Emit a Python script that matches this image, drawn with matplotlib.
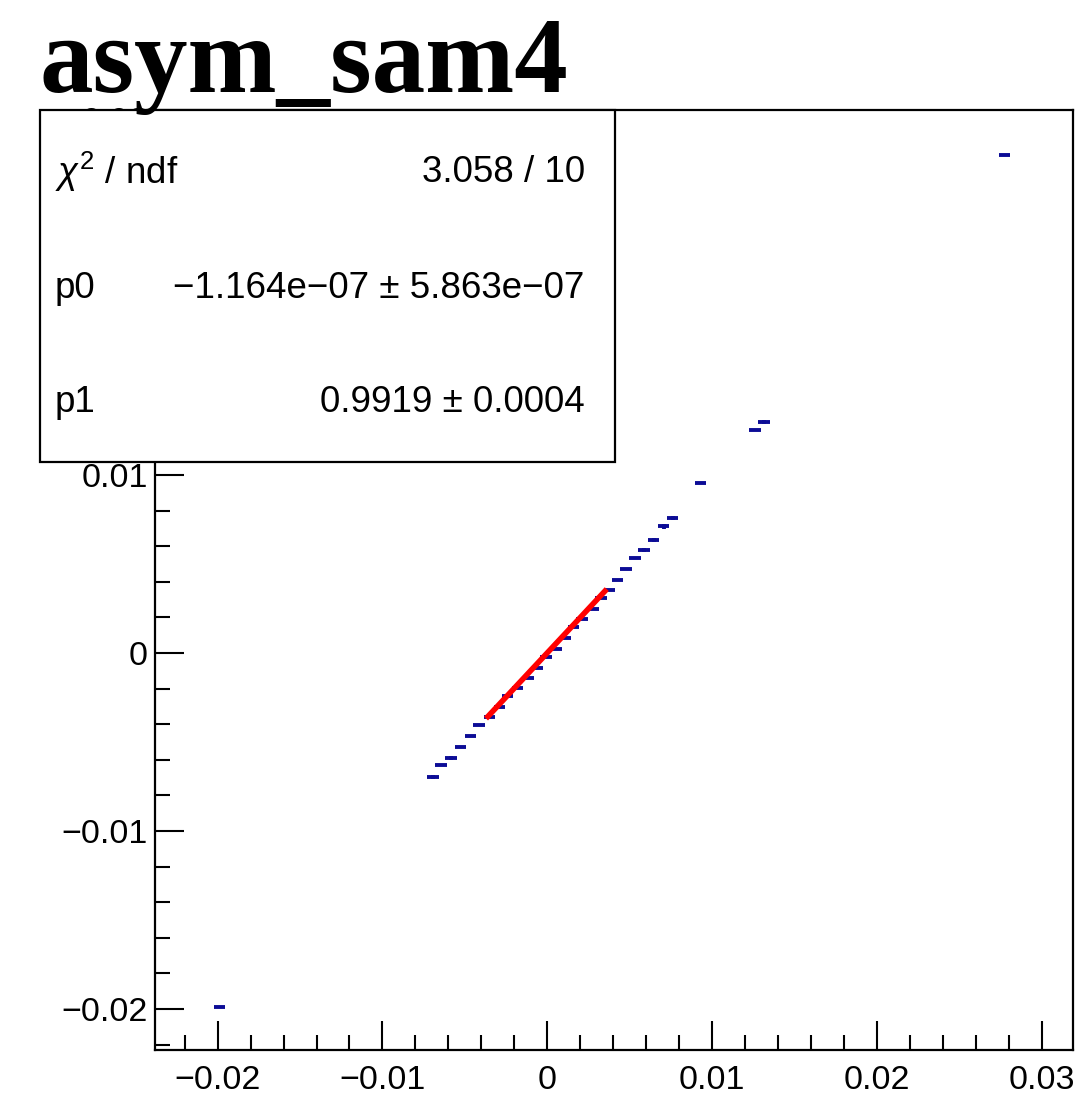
import numpy as np
import matplotlib.pyplot as plt
from matplotlib.ticker import MultipleLocator
from matplotlib.patches import Rectangle

# graph points
x_vals = [-0.0199, -0.00694, -0.00644, -0.00583, -0.00526, -0.00466, -0.00415,
          -0.0035, -0.0029, -0.0024, -0.00179, -0.00118, -0.00058, -0.00007,
          0.00053, 0.00112, 0.00161, 0.00211, 0.0028, 0.00326, 0.00377,
          0.00428, 0.00478, 0.00532, 0.00589, 0.00646, 0.00707, 0.00761,
          0.00929, 0.0126, 0.01317, 0.02774]
y_vals = [-0.0199, -0.00695, -0.00632, -0.00589, -0.00527, -0.00467, -0.00407,
          -0.00361, -0.00302, -0.00243, -0.00196, -0.0014, -0.00084, -0.00022,
          0.00025, 0.00085, 0.00144, 0.00191, 0.00249, 0.00309, 0.00356,
          0.00412, 0.00474, 0.00534, 0.0058, 0.00636, 0.00711, 0.00758,
          0.00955, 0.01254, 0.01299, 0.02797]
x_err = [0.00035, 0.00035, 0.00035, 0.00035, 0.00035, 0.00035, 0.00035,
         0.00035, 0.00035, 0.00035, 0.00035, 0.00035, 0.00035, 0.00035,
         0.00035, 0.00035, 0.00035, 0.00035, 0.00035, 0.00035, 0.00035,
         0.00035, 0.00035, 0.00035, 0.00035, 0.00035, 0.00035, 0.00035,
         0.00035, 0.00035, 0.00035, 0.00035]
y_err = [0.0, 0.00012, 0.0, 0.00012, 0.0, 0.0, 0.0,
         0.0, 0.0, 0.0, 0.0, 0.0, 0.0, 0.0,
         0.0, 0.0, 0.0, 0.0, 0.0, 0.0, 0.0,
         0.0, 0.0, 0.0, 0.00012, 0.00012, 0.00012, 0.00012,
         0.0, 0.0, 0.00012, 0.0]

# fit result
p0 = -1.164e-07
p1 = 0.9919
fit_range = [-0.0036, 0.0035]

stat_labels = ['$\\chi^{2}$ / ndf', 'p0', 'p1']
stat_values = ['3.058 / 10', '\u22121.164e\u221207 \u00b1 5.863e\u221207', '0.9919 \u00b1 0.0004']

plt.rcParams['font.family'] = ['Liberation Sans', 'DejaVu Sans']
plt.rcParams['mathtext.fontset'] = 'custom'
plt.rcParams['mathtext.rm'] = 'Liberation Sans'
plt.rcParams['mathtext.it'] = 'Liberation Sans:italic'

fig = plt.figure(figsize=(10.75, 11.12), dpi=100)
ax = fig.add_axes([0.1442, 0.0558, 0.8538, 0.8453])

ax.errorbar(x_vals, y_vals, xerr=x_err, yerr=y_err, fmt='none',
            ecolor='#0c0c96', elinewidth=2.8, capsize=0, zorder=2)

xf = np.linspace(fit_range[0], fit_range[1], 50)
ax.plot(xf, p0 + p1 * xf, color='#ff0000', lw=4, zorder=3)

ax.set_xlim(-0.0238, 0.0319)
ax.set_ylim(-0.0223, 0.0305)
ax.xaxis.set_major_locator(MultipleLocator(0.01))
ax.xaxis.set_minor_locator(MultipleLocator(0.002))
ax.yaxis.set_major_locator(MultipleLocator(0.01))
ax.yaxis.set_minor_locator(MultipleLocator(0.002))
fmt = plt.FuncFormatter(lambda v, p: '0' if abs(v) < 1e-9 else ('%g' % v).replace('-', '\u2212'))
ax.xaxis.set_major_formatter(fmt)
ax.yaxis.set_major_formatter(fmt)

ax.tick_params(which='both', direction='in', top=False, right=False, width=1.5, labelsize=24.5)
ax.tick_params(which='major', length=21)
ax.tick_params(which='minor', length=11)
ax.tick_params(axis='x', pad=11)
ax.tick_params(axis='y', pad=5)
for s in ax.spines.values():
    s.set_linewidth(1.6)

# title
fig.text(0.037, 0.917, 'asym_sam4', family='Liberation Serif', fontweight='bold',
         fontsize=77, va='baseline', ha='left')

# stats box drawn above the axes (covers tick labels like ROOT)
box = Rectangle((0.0372, 0.5845), 0.535, 0.3165, transform=fig.transFigure,
                facecolor='white', edgecolor='black', lw=1.6, zorder=2)
fig.patches.append(box)
rows_y = [0.8453, 0.741, 0.6376]
for lab, val, yy in zip(stat_labels, stat_values, rows_y):
    fig.text(0.0512, yy, lab, fontsize=26.5, va='center', ha='left', zorder=4)
    fig.text(0.544, yy, val, fontsize=26.5, va='center', ha='right', zorder=4)

fig.savefig('out.png', dpi=100)
